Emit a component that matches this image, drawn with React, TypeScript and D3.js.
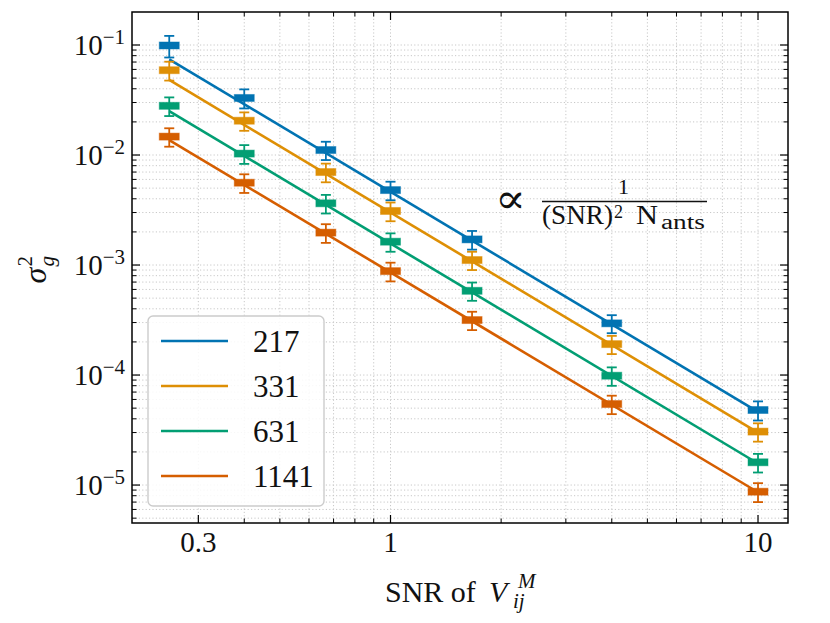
import * as d3 from 'd3';

// SNR values where the scatter was measured
const snr = [0.25, 0.4, 0.667, 1, 1.667, 4, 10];

const antennas = ['217', '331', '631', '1141'];
const colors = ['#0173b2', '#de8f05', '#029e73', '#d55e00'];

// measured gain variance per antenna count
const var217 = [0.099, 0.033, 0.0111, 0.0048, 0.00171, 0.000295, 0.0000481];
const var331 = [0.059, 0.0205, 0.007, 0.0031, 0.00111, 0.000191, 0.0000306];
const var631 = [0.028, 0.0103, 0.00364, 0.00163, 0.000583, 0.0000986, 0.0000161];
const var1141 = [0.0147, 0.0056, 0.00197, 0.00088, 0.000316, 0.0000545, 0.0000087];

// error bars (absolute)
const err217 = [0.022, 0.0065, 0.0021, 0.00092, 0.00033, 0.000055, 0.0000095];
const err331 = [0.0115, 0.0039, 0.00135, 0.0006, 0.00021, 0.000036, 0.0000058];
const err631 = [0.0054, 0.002, 0.0007, 0.00031, 0.00011, 0.0000188, 0.0000031];
const err1141 = [0.0028, 0.00108, 0.00038, 0.00017, 0.00006, 0.0000104, 0.0000017];

// fitted 1/SNR^2 lines, read at both ends
const fitX = [0.25, 10];
const fit217 = [0.0741, 0.0000463];
const fit331 = [0.0481, 0.00003];
const fit631 = [0.0251, 0.0000157];
const fit1141 = [0.01368, 0.0000086];

const xMajor = [0.3, 1, 10];
const xMajorLabels = ['0.3', '1', '10'];
const yMajor = [1e-1, 1e-2, 1e-3, 1e-4, 1e-5];
const yMajorExp = ['−1', '−2', '−3', '−4', '−5'];

const series = [
  { label: antennas[0], color: colors[0], values: var217, errs: err217, fit: fit217 },
  { label: antennas[1], color: colors[1], values: var331, errs: err331, fit: fit331 },
  { label: antennas[2], color: colors[2], values: var631, errs: err631, fit: fit631 },
  { label: antennas[3], color: colors[3], values: var1141, errs: err1141, fit: fit1141 },
];

const W = 830;
const H = 623;
const margin = { top: 12, right: 42, bottom: 100, left: 132 };
const serif = "'Liberation Serif', 'Times New Roman', 'DejaVu Serif', serif";

export default function App() {
  const x = d3.scaleLog()
    .domain([Math.pow(10, -0.7034), Math.pow(10, 1.0816)])
    .range([margin.left, W - margin.right]);
  const y = d3.scaleLog()
    .domain([Math.pow(10, -5.345), Math.pow(10, -0.7)])
    .range([H - margin.bottom, margin.top]);

  const [x0, x1] = x.range();
  const [y1, y0] = y.range();

  const isMajor = (v: number, list: number[]) => list.some(m => Math.abs(v / m - 1) < 1e-6);
  const xTicks = x.ticks().filter(v => v > x.domain()[0] * 1.02 && v < x.domain()[1]);
  const yTicks = y.ticks().filter(v => v > y.domain()[0] && v < y.domain()[1]);

  const line = d3.line<[number, number]>()
    .x(d => x(d[0]))
    .y(d => y(d[1]));

  const legendRows = [341, 386, 431, 476];

  return (
    <div style={{ position: 'absolute', left: 0, top: 0 }}>
      <svg width={W} height={H} style={{ display: 'block', background: '#fff', fontFamily: serif }}>
        {/* grid */}
        <g stroke="#c8c8c8" strokeWidth={1} strokeDasharray="1.2,2.2">
          {xTicks.map(v => (
            <line key={'gx' + v} x1={x(v)} x2={x(v)} y1={y0} y2={y1} />
          ))}
          {yTicks.map(v => (
            <line key={'gy' + v} x1={x0} x2={x1} y1={y(v)} y2={y(v)} />
          ))}
        </g>

        {/* fit lines */}
        {series.map(s => (
          <path
            key={'fit' + s.label}
            d={line(fitX.map((fx, i) => [fx, s.fit[i]] as [number, number])) || ''}
            fill="none"
            stroke={s.color}
            strokeWidth={2.6}
          />
        ))}

        {/* error bars and markers */}
        {series.map(s => (
          <g key={'pts' + s.label} stroke={s.color} strokeWidth={1.8}>
            {snr.map((sx, i) => {
              const cx = x(sx);
              const top = y(s.values[i] + s.errs[i]);
              const bot = y(s.values[i] - s.errs[i]);
              const cy = y(s.values[i]);
              return (
                <g key={i}>
                  <line x1={cx} x2={cx} y1={top} y2={bot} />
                  <line x1={cx - 5} x2={cx + 5} y1={top} y2={top} />
                  <line x1={cx - 5} x2={cx + 5} y1={bot} y2={bot} />
                  <rect x={cx - 10} y={cy - 3.5} width={20} height={7} fill={s.color} strokeOpacity={0.45} strokeWidth={1} />
                </g>
              );
            })}
          </g>
        ))}

        {/* ticks, inward on all sides */}
        <g stroke="#000">
          {xTicks.map(v => {
            const len = isMajor(v, xMajor) ? 8 : 4.5;
            const w = isMajor(v, xMajor) ? 1.2 : 1;
            return (
              <g key={'tx' + v} strokeWidth={w}>
                <line x1={x(v)} x2={x(v)} y1={y1} y2={y1 - len} />
                <line x1={x(v)} x2={x(v)} y1={y0} y2={y0 + len} />
              </g>
            );
          })}
          {yTicks.map(v => {
            const len = isMajor(v, yMajor) ? 8 : 4.5;
            const w = isMajor(v, yMajor) ? 1.2 : 1;
            return (
              <g key={'ty' + v} strokeWidth={w}>
                <line x1={x0} x2={x0 + len} y1={y(v)} y2={y(v)} />
                <line x1={x1} x2={x1 - len} y1={y(v)} y2={y(v)} />
              </g>
            );
          })}
        </g>

        {/* frame */}
        <rect x={x0} y={y0} width={x1 - x0} height={y1 - y0} fill="none" stroke="#000" strokeWidth={1.5} />

        {/* x tick labels */}
        <g fontSize={29} textAnchor="middle" fill="#111">
          {xMajor.map((v, i) => (
            <text key={'xl' + v} x={x(v)} y={y1 + 29}>{xMajorLabels[i]}</text>
          ))}
        </g>

        {/* y tick labels */}
        <g fill="#111">
          {yMajor.map((v, i) => (
            <text key={'yl' + v} x={x0 - 7} y={y(v) + 10} textAnchor="end" fontSize={29}>
              10<tspan fontSize={21} dy={-11}>{yMajorExp[i]}</tspan>
            </text>
          ))}
        </g>

        {/* axis labels */}
        <text y={602} fontSize={30} fill="#111">
          <tspan x={385}>SNR of</tspan>
          <tspan x={489} fontStyle="italic">V</tspan>
          <tspan x={518} dy={-14} fontSize={21} fontStyle="italic">M</tspan>
          <tspan x={513} dy={20} fontSize={21} fontStyle="italic">ij</tspan>
        </text>
        <g transform={`translate(46, ${(y0 + y1) / 2 + 16}) rotate(-90)`} fill="#111">
          <text x={0} y={0} fontSize={32} fontStyle="italic">
            σ
            <tspan x={17} dy={8} fontSize={21}>g</tspan>
            <tspan x={17} dy={-22} fontSize={21} fontStyle="normal">2</tspan>
          </text>
        </g>

        {/* scaling annotation */}
        <g fill="#111">
          <text x={495} y={213} fontSize={42} textLength={31} lengthAdjust="spacingAndGlyphs"
            style={{ fontFamily: "'DejaVu Serif', serif" }}>∝</text>
          <line x1={542} x2={707} y1={201.5} y2={201.5} stroke="#111" strokeWidth={1.4} />
          <text x={618} y={194} fontSize={22}>1</text>
          <text x={542} y={224} fontSize={27} textLength={71} lengthAdjust="spacingAndGlyphs">(SNR)</text>
          <text x={614} y={218} fontSize={18}>2</text>
          <text x={636} y={224} fontSize={27} textLength={22} lengthAdjust="spacingAndGlyphs">N</text>
          <text x={661} y={229} fontSize={20} textLength={44} lengthAdjust="spacingAndGlyphs">ants</text>
        </g>

        {/* legend */}
        <rect x={148} y={316} width={176} height={190} rx={5} fill="#fff" fillOpacity={0.85} stroke="#cccccc" strokeWidth={1.4} />
        {series.map((s, i) => (
          <g key={'lg' + s.label}>
            <line x1={161} x2={228} y1={legendRows[i]} y2={legendRows[i]} stroke={s.color} strokeWidth={2.6} />
            <text x={253} y={legendRows[i] + 11} fontSize={31} fill="#111">{s.label}</text>
          </g>
        ))}
      </svg>
    </div>
  );
}
